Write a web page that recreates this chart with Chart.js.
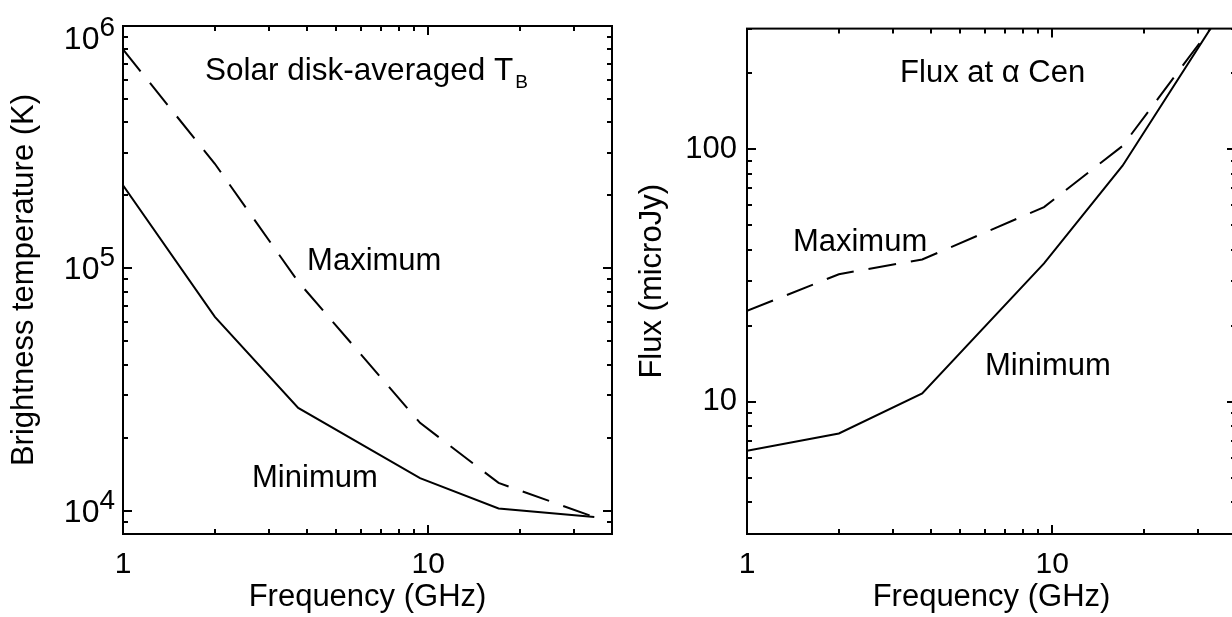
<!DOCTYPE html>
<html><head><meta charset="utf-8">
<script src="https://cdn.jsdelivr.net/npm/chart.js@4/dist/chart.umd.min.js"></script>
<style>
html,body{margin:0;padding:0;background:#fff;overflow:hidden;width:1232px;height:617px;position:relative;}
#c1{position:absolute;left:0;top:0;}
#c2{position:absolute;left:620px;top:0;}
</style></head><body>
<canvas id="c1" width="640" height="617"></canvas>
<canvas id="c2" width="640" height="617"></canvas>
<script>
// ---- data ----
const frequencies = [1, 2, 3.75, 9.4, 17, 35];           // GHz
const tbMaximum   = [8.0e5, 2.7e5, 8.8e4, 2.3e4, 1.3e4, 9.4e3];   // K
const tbMinimum   = [2.2e5, 6.3e4, 2.65e4, 1.36e4, 1.02e4, 9.4e3]; // K
const fluxMaximum = [22.9, 32, 36.6, 59, 103, 330];      // microJy
const fluxMinimum = [6.4, 7.5, 10.8, 35.3, 86, 335];     // microJy
const xTickLabels = ['1', '10'];
const tbTickExponents = [4, 5, 6];
const fluxTickLabels = ['10', '100'];

const FONT = "'Liberation Sans', Arial, Helvetica, sans-serif";
Chart.defaults.font.family = FONT;
Chart.defaults.color = '#000';
Chart.defaults.devicePixelRatio = 1;

function logTicks(min, max) {
  const out = [];
  for (let e = Math.floor(Math.log10(min)); e <= Math.ceil(Math.log10(max)); e++) {
    for (let m = 1; m <= 9; m++) {
      const v = m * Math.pow(10, e);
      if (v >= min * 0.9999 && v <= max * 1.0001) out.push(Number(v.toPrecision(6)));
    }
  }
  return out;
}
function isMajor(v) { const l = Math.log10(v); return Math.abs(l - Math.round(l)) < 1e-9; }

const framePlugin = {
  id: 'frame',
  afterDatasetsDraw(chart, args, opts) {
    const {ctx, chartArea: a, scales: {x, y}} = chart;
    ctx.save();
    ctx.strokeStyle = '#000';
    ctx.lineWidth = 2;
    ctx.lineCap = 'butt';
    ctx.strokeRect(a.left, a.top, a.right - a.left, a.bottom - a.top);
    const MAJ = 9, MIN = 5;
    ctx.beginPath();
    logTicks(x.min, x.max).forEach(v => {
      const px = Math.round(x.getPixelForValue(v));
      const L = isMajor(v) ? MAJ : MIN;
      ctx.moveTo(px, a.bottom); ctx.lineTo(px, a.bottom - L);
      ctx.moveTo(px, a.top); ctx.lineTo(px, a.top + L);
    });
    logTicks(y.min, y.max).forEach(v => {
      const py = Math.round(y.getPixelForValue(v));
      const L = isMajor(v) ? MAJ : MIN;
      ctx.moveTo(a.left, py); ctx.lineTo(a.left + L, py);
      ctx.moveTo(a.right, py); ctx.lineTo(a.right - L, py);
    });
    ctx.stroke();
    ctx.fillStyle = '#000';
    // exponent tick labels (10^n)
    if (opts.exponents) {
      opts.exponents.forEach(e => {
        const py = y.getPixelForValue(Math.pow(10, e));
        const eb = Math.max(py - 2, a.top + 10);   // keep the top label inside the canvas
        ctx.font = '28px ' + FONT;
        ctx.textAlign = 'right'; ctx.textBaseline = 'alphabetic';
        const xr = a.left - 8;
        ctx.fillText(String(e), xr, eb);
        const ew = ctx.measureText(String(e)).width;
        ctx.font = '32px ' + FONT;
        ctx.fillText('10', xr - ew, eb + 13);
      });
    }
    // annotations
    (opts.texts || []).forEach(t => {
      let px = x.getPixelForValue(t.x);
      const py = y.getPixelForValue(t.y);
      ctx.textAlign = 'left'; ctx.textBaseline = 'alphabetic';
      t.parts.forEach(p => {
        ctx.font = p.size + 'px ' + FONT;
        ctx.fillText(p.t, px, py + (p.dy || 0));
        px += ctx.measureText(p.t).width + (p.gap || 0);
      });
    });
    ctx.restore();
  }
};

function xScale() {
  return {
    type: 'logarithmic', min: 1, max: 40,
    afterBuildTicks: s => { s.ticks = logTicks(1, 40).map(v => ({value: v})); },
    ticks: {
      autoSkip: false, maxRotation: 0, padding: 13,
      font: {size: 30},
      callback: v => (isMajor(v) ? xTickLabels[Math.round(Math.log10(v))] : '')
    },
    grid: {display: false, drawTicks: false},
    border: {display: false},
    title: {display: true, text: 'Frequency (GHz)', font: {size: 31}, padding: {top: 0, bottom: 1}},
    afterFit: s => { s.height = 83; }
  };
}

function lineDatasets(maxVals, minVals) {
  return [
    {label: 'Maximum', data: frequencies.map((f, i) => ({x: f, y: maxVals[i]})),
     borderColor: '#000', borderWidth: 2, borderDash: [28, 15], pointRadius: 0, tension: 0, fill: false},
    {label: 'Minimum', data: frequencies.map((f, i) => ({x: f, y: minVals[i]})),
     borderColor: '#000', borderWidth: 2, pointRadius: 0, tension: 0, fill: false}
  ];
}

new Chart(document.getElementById('c1'), {
  type: 'line',
  data: {datasets: lineDatasets(tbMaximum, tbMinimum)},
  plugins: [framePlugin],
  options: {
    responsive: false, animation: false, events: [],
    layout: {padding: {left: 0, top: 26, right: 28, bottom: 0}},
    plugins: {
      legend: {display: false}, tooltip: {enabled: false},
      frame: {
        exponents: tbTickExponents,
        texts: [
          {x: 1.857, y: 5.99e5, parts: [{t: 'Solar disk-averaged T', size: 31.5, gap: 2}, {t: 'B', size: 19, dy: 8}]},
          {x: 4.01, y: 9.84e4, parts: [{t: 'Maximum', size: 31}]},
          {x: 2.647, y: 1.251e4, parts: [{t: 'Minimum', size: 31}]}
        ]
      }
    },
    scales: {
      x: xScale(),
      y: {
        type: 'logarithmic', min: 8000, max: 1e6,
        ticks: {display: false},
        grid: {display: false, drawTicks: false},
        border: {display: false},
        title: {display: true, text: 'Brightness temperature (K)', font: {size: 31}, padding: {top: 6, bottom: 0}},
        afterFit: s => { s.width = 123; }
      }
    }
  }
});

new Chart(document.getElementById('c2'), {
  type: 'line',
  data: {datasets: lineDatasets(fluxMaximum, fluxMinimum)},
  plugins: [framePlugin],
  options: {
    responsive: false, animation: false, events: [],
    layout: {padding: {left: 0, top: 26, right: 24, bottom: 0}},
    plugins: {
      legend: {display: false}, tooltip: {enabled: false},
      frame: {
        texts: [
          {x: 3.174, y: 183.9, parts: [{t: 'Flux at ', size: 31}, {t: '\u03B1', size: 31, gap: 0}, {t: ' Cen', size: 31}]},
          {x: 1.414, y: 39.4, parts: [{t: 'Maximum', size: 31}]},
          {x: 6.024, y: 12.8, parts: [{t: 'Minimum', size: 31}]}
        ]
      }
    },
    scales: {
      x: xScale(),
      y: {
        type: 'logarithmic', min: 3, max: 300,
        afterBuildTicks: s => { s.ticks = logTicks(3, 300).map(v => ({value: v})); },
        ticks: {
          autoSkip: false, padding: 10, font: {size: 31},
          callback: v => (isMajor(v) ? fluxTickLabels[Math.round(Math.log10(v)) - 1] : '')
        },
        grid: {display: false, drawTicks: false},
        border: {display: false},
        title: {display: true, text: 'Flux (microJy)', font: {size: 31}, padding: {top: 14, bottom: 0}},
        afterFit: s => { s.width = 127; }
      }
    }
  }
});
</script>
</body></html>
